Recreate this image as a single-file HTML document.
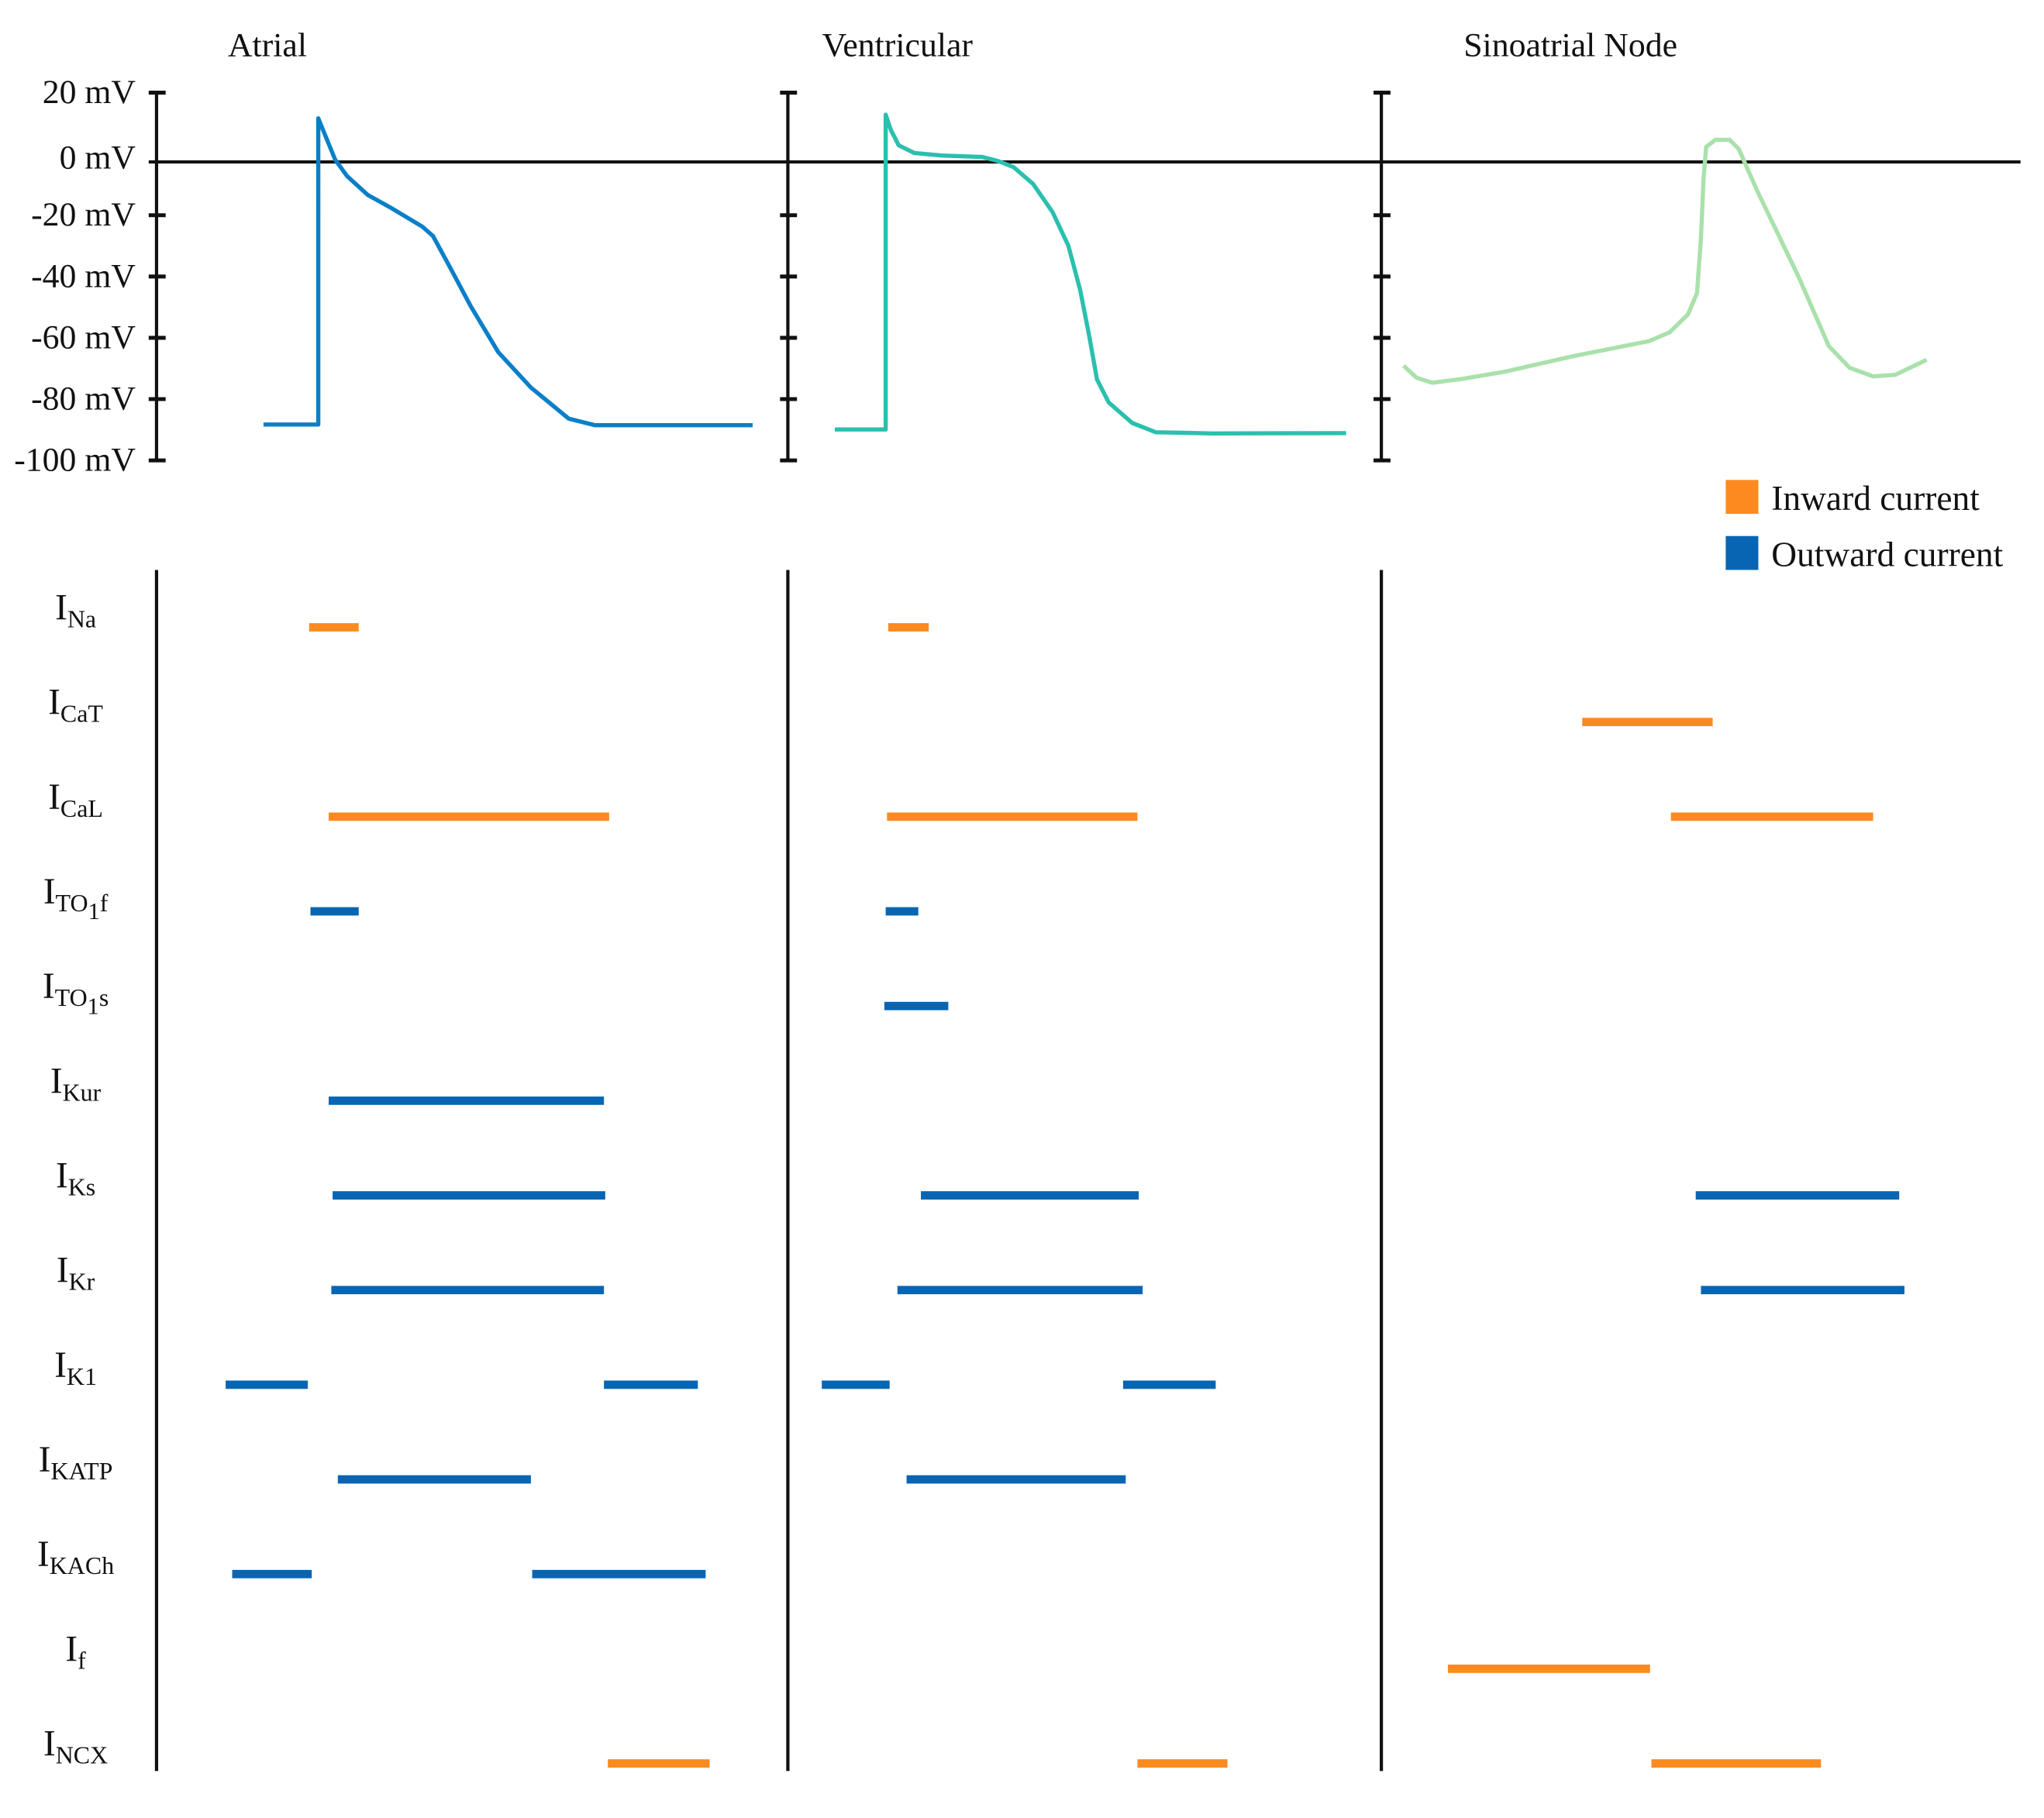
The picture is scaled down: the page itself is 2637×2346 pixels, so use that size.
<!DOCTYPE html>
<html><head><meta charset="utf-8"><style>
html,body{margin:0;padding:0;background:#fff;}
svg{display:block;}
text{font-family:"Liberation Serif","DejaVu Serif",serif;fill:#111;}
</style></head>
<body>
<svg id="chart" width="2637" height="2346" viewBox="0 0 1567 1394" xmlns="http://www.w3.org/2000/svg">
<g id="topGroup"></g>
<g id="bottomGroup"></g>
<g id="legend">
  <rect x="1323" y="368" width="25" height="26" fill="#fd8a1f"/>
  <text x="1358" y="391" font-size="27">Inward current</text>
  <rect x="1323" y="411" width="25" height="26" fill="#0765b3"/>
  <text x="1358" y="434" font-size="27">Outward current</text>
</g>
</svg>
<script>
const NS="http://www.w3.org/2000/svg";
// ---- data ----
const panelNames=["Atrial","Ventricular","Sinoatrial Node"];
const yTickValues=[20,0,-20,-40,-60,-80,-100];
const yTickLabels=["20 mV","0 mV","-20 mV","-40 mV","-60 mV","-80 mV","-100 mV"];
const atrialTime=[82,124,124,137,146,162,179,204,212,224,241,262,287,316,336,457];
const atrialMv=[-88.3,-88.3,11.6,-1.9,-7.2,-13.4,-17.4,-23.8,-26.8,-36.2,-49.8,-64.7,-76.2,-86.4,-88.5,-88.5];
const ventTime=[36,75,75,79,85,97,118,149,161,173,188,203,215,224,231,237,246,264,282,325,428];
const ventMv=[-89.9,-89.9,12.8,7.8,2.8,0.3,-0.5,-1.0,-2.3,-4.3,-9.8,-19,-29.9,-44.2,-59.3,-73.6,-81.1,-87.8,-90.8,-91.2,-91.1];
const saTime=[17,27,39,62,94,147,205,221,235,242,245,247,249,256,267,274,288,320,343,359,377,394,418];
const saMv=[-69.1,-73,-74.7,-73.4,-71.1,-66,-61.1,-58.2,-52.4,-45.4,-27.4,-8,2.3,4.6,4.6,1.6,-11.9,-40.2,-62.7,-69.8,-72.6,-72.1,-67.2];
const currentNames=["Na","CaT","CaL","TO1f","TO1s","Kur","Ks","Kr","K1","KATP","KACh","f","NCX"];
const currentInward=[true,true,true,false,false,false,false,false,false,false,false,true,true];
// bars: [panelIndex, currentIndex, startTime, endTime]
const atrialBars=[[0,0,117,155],[0,2,132,347],[0,3,118,155],[0,5,132,343],[0,6,135,344],[0,7,134,343],[0,8,53,116],[0,8,343,415],[0,9,139,287],[0,10,58,119],[0,10,288,421],[0,12,346,424]];
const ventBars=[[1,0,77,108],[1,2,76,268],[1,3,75,100],[1,4,74,123],[1,6,102,269],[1,7,84,272],[1,8,26,78],[1,8,257,328],[1,9,91,259],[1,12,268,337]];
const saBars=[[2,1,154,254],[2,2,222,377],[2,6,241,397],[2,7,245,401],[2,11,51,206],[2,12,207,337]];
const zeroLineMv=-2.6;
// ---- layout ----
const axisX=[120,604,1059];
const curveColors=["#0a7fc9","#2bbfae","#a9e1ab"];
function yScale(v){return 118-2.35*v;}
function xScale(p,t){return axisX[p]+t;}
const rowY0=481,rowStep=72.6;
function rowY(i){return rowY0+i*rowStep;}
function mk(tag,attrs,parent){const e=document.createElementNS(NS,tag);for(const k in attrs)e.setAttribute(k,attrs[k]);parent.appendChild(e);return e;}
const topG=document.getElementById('topGroup'),bottomG=document.getElementById('bottomGroup');
// titles
const titleX=[205,688,1204];
panelNames.forEach((n,i)=>{
  const t=mk('text',{x:titleX[i],y:43,'font-size':26,'text-anchor':'middle'},topG);
  t.textContent=n;
  
  
});
// zero line
const zl=mk('line',{x1:114,x2:1549,y1:yScale(zeroLineMv),y2:yScale(zeroLineMv),stroke:'#111','stroke-width':2.5},topG);


// y axes
axisX.forEach((x,i)=>{
  const a=mk('line',{x1:x,x2:x,y1:yScale(20),y2:yScale(-100),stroke:'#111','stroke-width':2.5},topG);
  
  
  yTickValues.forEach(v=>{
    if(v===0)return;
    const tk=mk('line',{x1:x-6,x2:x+7,y1:yScale(v),y2:yScale(v),stroke:'#111','stroke-width':3},topG);
    
    
  });
});
yTickValues.forEach((v,i)=>{
  const yy=v===0?yScale(zeroLineMv)-3:yScale(v);
  const t=mk('text',{x:104,y:yy+8,'font-size':26,'text-anchor':'end'},topG);
  t.textContent=yTickLabels[i];
  
  
});
// curves
[[atrialTime,atrialMv],[ventTime,ventMv],[saTime,saMv]].forEach((s,p)=>{
  const d=s[0].map((t,i)=>(i?'L':'M')+xScale(p,t).toFixed(1)+' '+yScale(s[1][i]).toFixed(1)).join(' ');
  const pth=mk('path',{d:d,fill:'none',stroke:curveColors[p],'stroke-width':3.2,'stroke-linejoin':'round'},topG);
  
  
});
// bottom axes
axisX.forEach((x,i)=>{
  const a=mk('line',{x1:x,x2:x,y1:437,y2:1358,stroke:'#111','stroke-width':2.5},bottomG);
  
  
});
// labels
currentNames.forEach((n,i)=>{
  const t=mk('text',{x:58,y:rowY(i)-6,'font-size':28,'text-anchor':'middle'},bottomG);
  if(n.startsWith('TO1')){
    t.innerHTML='I<tspan font-size="19" dy="6">TO</tspan><tspan font-size="18" dy="6">1</tspan><tspan font-size="19" dy="-6">'+n.slice(3)+'</tspan>';
  }else{
    t.innerHTML='I<tspan font-size="19" dy="6">'+n+'</tspan>';
  }
  
  
});
// bars
atrialBars.concat(ventBars,saBars).forEach(b=>{
  const x1=xScale(b[0],b[2]),x2=xScale(b[0],b[3]);
  const r=mk('rect',{x:x1,y:rowY(b[1])-3.2,width:x2-x1,height:6.4,fill:currentInward[b[1]]?'#fd8a1f':'#0765b3'},bottomG);
  
  
});
</script>
</body></html>
